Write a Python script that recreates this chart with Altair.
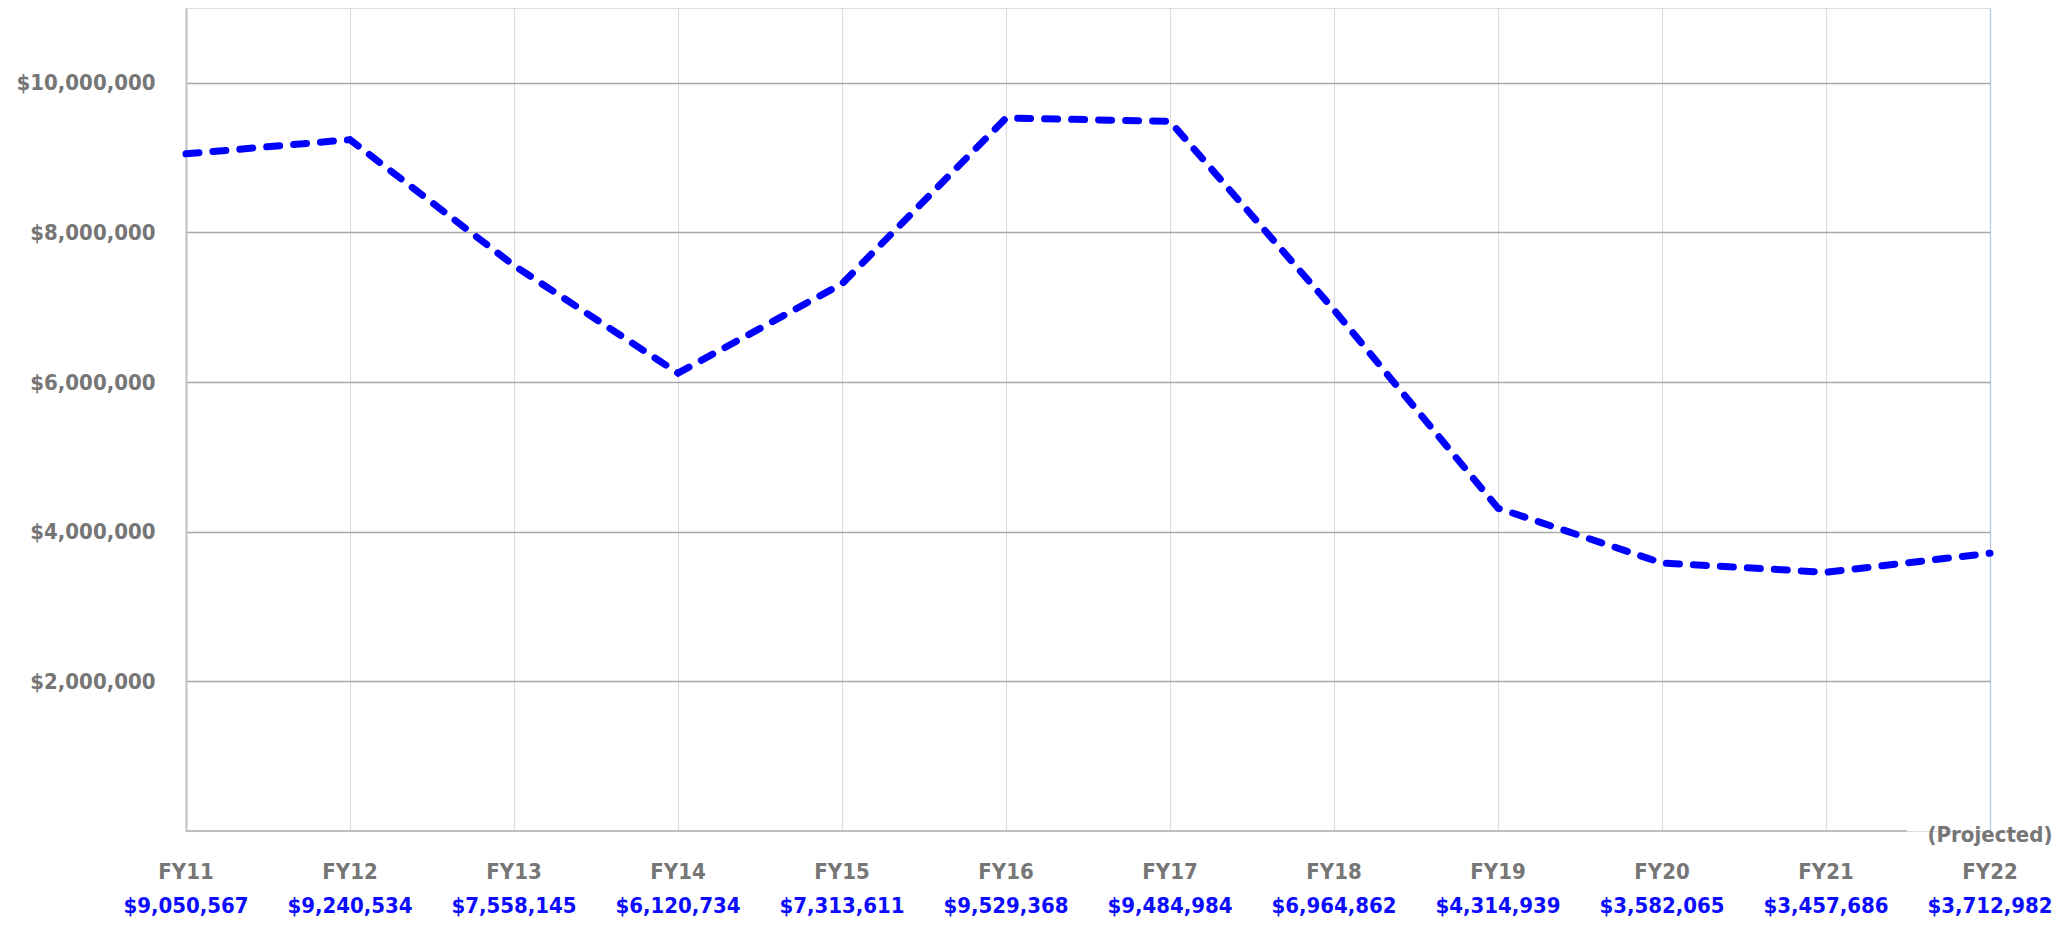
import altair as alt
import pandas as pd

fy = ["FY11", "FY12", "FY13", "FY14", "FY15", "FY16", "FY17", "FY18", "FY19", "FY20", "FY21", "FY22"]
amounts = [9050567, 9240534, 7558145, 6120734, 7313611, 9529368, 9484984, 6964862, 4314939, 3582065, 3457686, 3712982]
y_ticks = [2000000, 4000000, 6000000, 8000000, 10000000]

df = pd.DataFrame({"fy": fy, "amount": amounts})
df["label"] = ["${:,}".format(v) for v in amounts]

W = 1804
H = 823
FONT = "DejaVu Sans Condensed, DejaVu Sans"
GRAY = "#767676"
BLUE = "#0c0cff"

xs = alt.Scale(type="point", padding=0, domain=fy)
ys = alt.Scale(domain=[0, 11000000], nice=False)

x_enc = alt.X("fy:O", scale=xs, sort=fy,
              axis=alt.Axis(title=None, labels=False, ticks=False, domain=False,
                            grid=True,
                            gridColor={"condition": {"test": "datum.value === 'FY22'", "value": "#b4c7e7"},
                                       "value": "#dcdcdc"},
                            gridWidth=1.2))
y_enc = alt.Y("amount:Q", scale=ys,
              axis=alt.Axis(title=None, values=y_ticks, format="$,.0f", ticks=False,
                            domain=True, domainColor="#bfbfbf", domainWidth=2,
                            gridColor="#a9a9a9", gridWidth=1.5,
                            labelFont=FONT, labelFontSize=22, labelFontWeight="bold",
                            labelColor=GRAY, labelPadding=31))

line = alt.Chart(df).mark_line(color="#0000ff", strokeWidth=7, strokeDash=[13, 14],
                               strokeCap="round").encode(x=x_enc, y=y_enc)

base_axis = alt.Chart(df).mark_rule(color="#bfbfbf", strokeWidth=2).encode(
    x=alt.value(0), x2=alt.value(1721), y=alt.value(H))

fy_text = alt.Chart(df).mark_text(font=FONT, fontSize=22, fontWeight="bold", color=GRAY,
                                  baseline="middle").encode(
    x=alt.X("fy:O", scale=xs, sort=fy), y=alt.value(H + 41), text="fy:N")

val_text = alt.Chart(df).mark_text(font=FONT, fontSize=22, fontWeight="bold", color=BLUE,
                                   baseline="middle").encode(
    x=alt.X("fy:O", scale=xs, sort=fy), y=alt.value(H + 75), text="label:N")

proj = alt.Chart(pd.DataFrame({"fy": ["FY22"], "t": ["(Projected)"]})).mark_text(
    font=FONT, fontSize=22, fontWeight="bold", color=GRAY, baseline="middle").encode(
    x=alt.X("fy:O", scale=xs, sort=fy), y=alt.value(H + 4), text="t:N")

chart = alt.layer(line, base_axis, fy_text, val_text, proj).properties(
    width=W, height=H,
    autosize=alt.AutoSizeParams(type="none"),
    padding={"left": 178, "top": 0, "right": 62, "bottom": 88},
).configure_view(stroke=None).configure(background="white")

chart.save("out.html", embed_options={"renderer": "svg", "actions": False})
